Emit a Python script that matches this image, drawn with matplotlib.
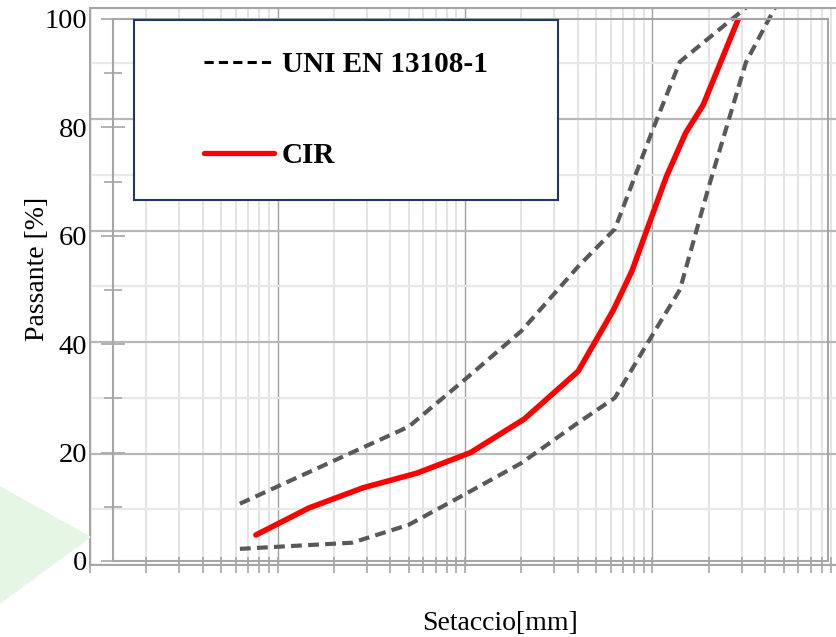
import matplotlib
matplotlib.use("Agg")
import matplotlib.pyplot as plt
import matplotlib.ticker as ticker
from matplotlib.patches import Polygon
from matplotlib.lines import Line2D
import numpy as np

plt.rcParams["font.family"] = ["Liberation Serif", "DejaVu Serif"]

# fuso granulometrico UNI EN 13108-1 (limiti)
upper_mm = [0.063, 0.25, 0.5, 1, 2, 4, 6.3, 10, 14, 31.5]
upper_pass = [11.0, 20.2, 24.8, 33.3, 42.0, 53.5, 60.3, 78.0, 90.3, 100]
lower_mm = [0.063, 0.25, 0.5, 1, 2, 4, 6.3, 10, 14, 20, 31.5, 45]
lower_pass = [2.9, 4.0, 7.2, 12.7, 18.3, 25.5, 30.0, 41.3, 49.4, 68.0, 90.2, 100]

# curva CIR
cir_mm = [0.063, 0.125, 0.25, 0.5, 1, 2, 4, 6.3, 8, 10, 12.5, 16, 20, 31.5]
cir_pass = [4.8, 9.8, 13.5, 16.2, 20.0, 26.2, 35.0, 46.3, 53.5, 62.3, 71.0, 79.0, 84.1, 100]

W, H = 836, 637
fig = plt.figure(figsize=(W / 100, H / 100), dpi=100)

def px(l, t, r, b):
    return [l / W, 1 - b / H, (r - l) / W, (b - t) / H]

# sfondo verde (triangolo decorativo)
tri = Polygon([[0, 1 - 487 / H], [90 / W, 1 - 537 / H], [0, 1 - 603 / H]],
              closed=True, transform=fig.transFigure, color="#e5f6e5", zorder=0)
fig.patches.append(tri)

gray = "#a6a6a6"

# grafico esterno: griglia + fuso
ax = fig.add_axes(px(90, 7.7, 840, 565))
ax.set_xscale("log")
ax.set_xlim(0.01, 100)
ax.set_ylim(0, 100)
ax.xaxis.set_major_locator(ticker.LogLocator(base=10, numticks=10))
ax.xaxis.set_minor_locator(ticker.LogLocator(base=10, subs=np.arange(2, 10), numticks=20))
ax.xaxis.set_major_formatter(ticker.NullFormatter())
ax.xaxis.set_minor_formatter(ticker.NullFormatter())
ax.yaxis.set_major_locator(ticker.MultipleLocator(20))
ax.yaxis.set_minor_locator(ticker.MultipleLocator(10))
ax.tick_params(axis="y", which="both", length=0, labelleft=False)
ax.tick_params(axis="x", which="both", direction="inout", length=12, width=1.2, color=gray)
ax.grid(True, which="major", axis="x", color="#a0a0a0", lw=1.0)
ax.grid(True, which="minor", axis="x", color="#e2e2e2", lw=1.3)
ax.grid(True, which="major", axis="y", color="#b8b8b8", lw=1.6)
ax.grid(True, which="minor", axis="y", color="#e8e8e8", lw=1.6)
ax.set_axisbelow(True)
for s in ax.spines.values():
    s.set_color(gray)
    s.set_linewidth(1.5)

env_style = dict(color="#595959", lw=3, linestyle=(0, (2.6, 1.5)))
ax.plot(upper_mm, upper_pass, **env_style)
ax.plot(lower_mm, lower_pass, **env_style)

# grafico interno: cornice, asse y, curva CIR
ax2 = fig.add_axes(px(113, 19, 828, 561))
ax2.set_facecolor("none")
ax2.set_xscale("log")
ax2.set_xlim(0.01, 100)
ax2.set_ylim(0, 100)
ax2.yaxis.set_major_locator(ticker.MultipleLocator(20))
ax2.yaxis.set_minor_locator(ticker.MultipleLocator(10))
ax2.tick_params(axis="x", which="both", bottom=False, labelbottom=False)
ax2.tick_params(axis="y", which="major", direction="inout", length=17, width=1.2,
                color=gray, labelsize=20.5, pad=10)
ax2.tick_params(axis="y", which="minor", direction="inout", length=13, width=1.2, color=gray)
for s in ax2.spines.values():
    s.set_color(gray)
    s.set_linewidth(1.5)
ax2.plot(cir_mm, cir_pass, color="#ff0000", lw=4, solid_capstyle="round")

fig.text(38 / W, 1 - 269 / H, "Passante [%]", rotation=90, fontsize=20,
         ha="center", va="center")
fig.text(500 / W, 1 - 623 / H, "Setaccio[mm]", fontsize=20, ha="center", va="center")

# legenda
lax = fig.add_axes(px(134, 20, 558, 200))
lax.set_xticks([])
lax.set_yticks([])
for s in lax.spines.values():
    s.set_color("#1f3864")
    s.set_linewidth(1.5)
handles = [Line2D([], [], color="black", lw=2.2, linestyle=(0, (3, 1.7))),
           Line2D([], [], color="#ff0000", lw=3.8, solid_capstyle="round")]
lax.legend(handles, ["UNI EN 13108-1", "CIR"], loc="center", frameon=False,
           prop={"weight": "bold", "size": 21}, handlelength=2.4,
           handletextpad=0.25, labelspacing=2.2)

fig.savefig("out.png", dpi=100)
